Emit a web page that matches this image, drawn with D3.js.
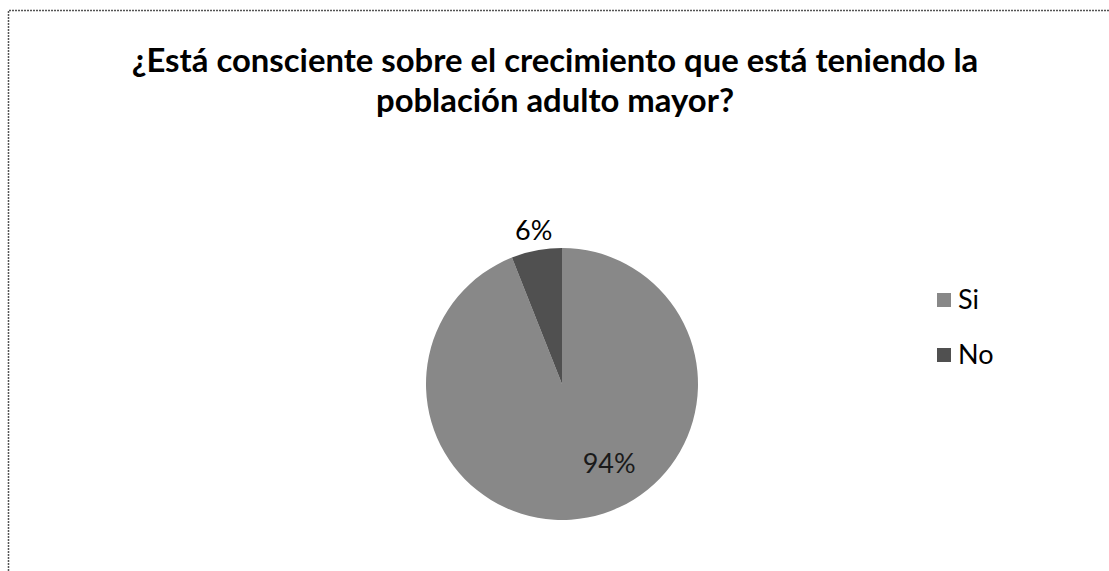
<!DOCTYPE html>
<html><head><meta charset="utf-8">
<script src="https://cdn.jsdelivr.net/npm/d3@7"></script>
<style>body{margin:0;background:#fff}svg{display:block}</style>
</head><body>
<script>
const categories = ["Si", "No"];
const values = [94, 6];
const labels = ["94%", "6%"];
const titleLines = ["¿Está consciente sobre el crecimiento que está teniendo la", "población adulto mayor?"];
const colors = ["#888888", "#505050"];

const W = 1109, H = 571;
const svg = d3.select("body").append("svg").attr("width", W).attr("height", H);
svg.append("rect").attr("width", W).attr("height", H).attr("fill", "#fff");

// border (top + left)
svg.append("path").attr("d", `M8.5,${H} L8.5,10.5 L${W},10.5`)
  .attr("fill", "none").attr("stroke", "#555").attr("stroke-width", 1.5).attr("stroke-dasharray", "2,1");

const font = "Lato, 'Open Sans', sans-serif";
const t1 = svg.append("text").attr("x", 555).attr("y", 72).attr("text-anchor", "middle")
  .attr("font-family", font).attr("font-weight", "bold").attr("font-size", 27).attr("fill", "#000").text(titleLines[0]);
const w = t1.node().getComputedTextLength();
const fs = 27 * 847 / w;
t1.attr("font-size", fs);
svg.append("text").attr("x", 555).attr("y", 112).attr("text-anchor", "middle")
  .attr("font-family", font).attr("font-weight", "bold").attr("font-size", fs).attr("fill", "#000").text(titleLines[1]);

const cx = 562, cy = 384, r = 136;
const pie = d3.pie().sort(null).value(d => d)(values);
const arc = d3.arc().innerRadius(0).outerRadius(r);
const g = svg.append("g").attr("transform", `translate(${cx},${cy})`);
g.selectAll("path").data(pie).join("path").attr("d", arc).attr("fill", (d, i) => colors[i]);

// labels
const inner = d3.arc().innerRadius(r * 0.75).outerRadius(r * 0.75);
g.append("text").attr("transform", () => { const c = inner.centroid(pie[0]); return `translate(${c[0] + 28},${c[1] - 21})`; })
  .attr("text-anchor", "middle").attr("dy", "0.35em").attr("font-family", font).attr("font-size", 27).attr("fill", "#1a1a1a").text(labels[0]);
const outer = d3.arc().innerRadius(r + 20).outerRadius(r + 20);
g.append("text").attr("transform", () => { const c = outer.centroid(pie[1]); return `translate(${c[0] + 1},${c[1]})`; })
  .attr("text-anchor", "middle").attr("dy", "0.35em").attr("font-family", font).attr("font-size", 27).attr("fill", "#000").text(labels[1]);

// legend
const lg = svg.append("g").attr("transform", "translate(937,300)");
categories.forEach((c, i) => {
  const y = i * 55;
  lg.append("rect").attr("x", 0).attr("y", y - 7).attr("width", 14).attr("height", 14).attr("fill", colors[i]);
  lg.append("text").attr("x", 21).attr("y", y).attr("dy", "0.35em").attr("font-family", font).attr("font-size", 27).attr("fill", "#000").text(c);
});
</script>
</body></html>
